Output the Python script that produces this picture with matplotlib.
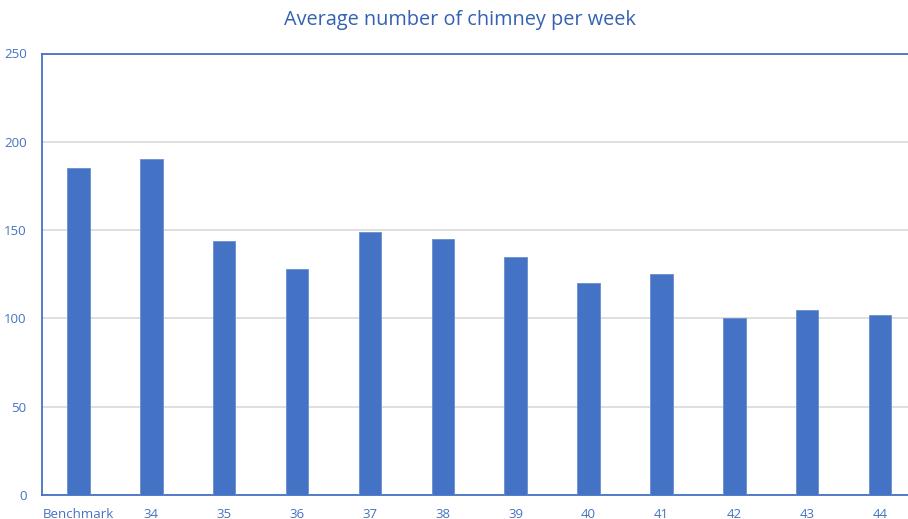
import matplotlib.pyplot as plt
import numpy as np

categories = ["Benchmark", "34", "35", "36", "37", "38", "39", "40", "41", "42", "43", "44"]
values = [185, 190, 144, 128, 149, 145, 135, 120, 125, 100, 105, 102]
yticks = [0, 50, 100, 150, 200, 250]

BLUE = "#4472C4"
TEXT = "#4472C4"

plt.rcParams["font.family"] = ["Open Sans", "DejaVu Sans"]

fig = plt.figure(figsize=(9.08, 5.19), dpi=100)
W, H = 908, 519
# axes runs slightly past the right edge of the figure, as in the original
left, right, top, bottom = 42, 916.5, 53.5, 495
ax = fig.add_axes([left / W, 1 - bottom / H, (right - left) / W, (bottom - top) / H])

x = np.arange(len(categories))
ax.bar(x, values, width=0.31, color=BLUE, edgecolor="#6a8fd0", linewidth=0.6, zorder=3)

ax.set_xlim(-0.5, len(categories) - 0.5)
ax.set_ylim(0, 250)
ax.set_yticks(yticks)
ax.set_xticks(x)
ax.set_xticklabels(categories)
ax.grid(axis="y", color="#d9d9d9", linewidth=1.2, zorder=0)

for side in ["left", "top", "bottom"]:
    ax.spines[side].set_color(BLUE)
    ax.spines[side].set_linewidth(1.3)
ax.spines["right"].set_visible(False)

ax.tick_params(axis="both", length=0, colors=TEXT, labelsize=9.5)
ax.tick_params(axis="y", pad=11)
ax.tick_params(axis="x", pad=9)
for lbl in ax.get_yticklabels():
    lbl.set_horizontalalignment("right")

fig.text(0.5 + 6 / W, 1 - 20 / H, "Average number of chimney per week",
         ha="center", va="center", fontsize=14.3, color="#3461b0")

fig.savefig("out.png", dpi=100)
